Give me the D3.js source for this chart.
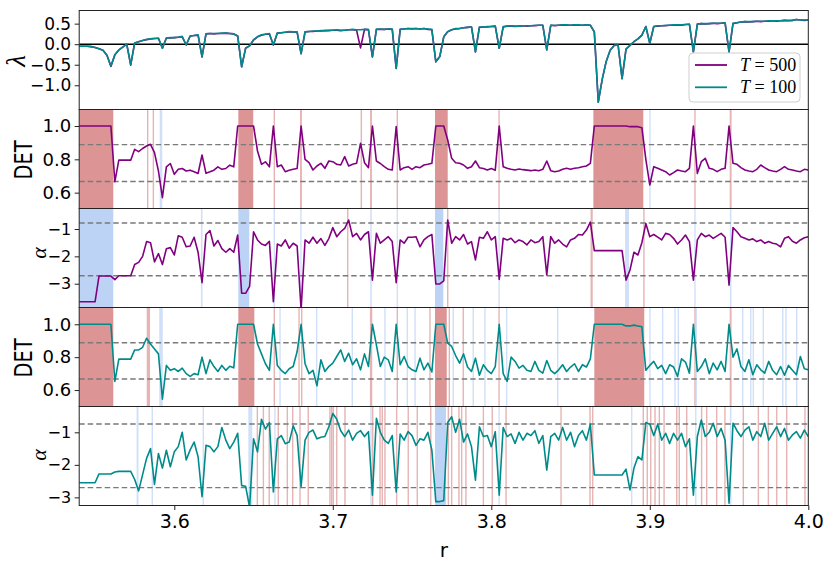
<!DOCTYPE html>
<html><head><meta charset="utf-8">
<script src="https://cdn.jsdelivr.net/npm/d3@7/dist/d3.min.js"></script>
<style>body{margin:0;background:#fff}</style>
</head><body>
<svg id="c" width="831" height="569"></svg>
<script>
// ---------- data (sampled on a regular r grid) ----------
const rStart = 3.54, rStep = 0.0025;
const xTicks = [3.6, 3.7, 3.8, 3.9, 4.0];

const lambda500 = [
-0.05,-0.05,-0.05,-0.06,-0.08,-0.11,-0.15,-0.27,-0.54,-0.26,
-0.14,-0.07,0.0,-0.51,0.03,0.06,0.09,0.11,0.13,0.14,
0.14,-0.10,0.15,0.15,0.16,0.17,0.18,-0.02,0.20,0.21,
0.22,-0.31,0.25,0.26,0.25,0.26,0.26,0.27,0.26,0.25,
0.20,-0.55,-0.10,-0.04,0.10,0.18,0.22,0.24,0.25,-0.02,
0.27,0.28,0.29,0.30,0.30,0.29,-0.23,0.30,0.31,0.31,
0.32,0.32,0.33,0.33,0.34,0.34,0.33,0.34,0.35,0.35,
0.34,-0.09,0.36,0.35,-0.31,0.36,0.36,0.36,0.37,0.36,
-0.59,0.36,0.37,0.38,0.37,0.38,0.37,0.38,0.36,0.35,
-0.43,-0.30,0.18,0.30,0.35,0.37,0.38,0.40,0.41,0.42,
-0.19,0.41,0.42,0.42,0.43,0.44,-0.10,0.42,0.44,0.44,
0.43,0.44,0.45,0.44,0.45,0.45,0.46,0.46,-0.14,0.46,
0.45,0.46,0.47,0.46,0.46,0.47,0.46,0.46,0.47,0.46,
0.30,-1.41,-0.85,-0.42,-0.15,-0.03,-0.02,-0.84,-0.12,-0.03,
0.06,0.13,0.22,0.43,0.02,0.43,0.44,0.45,0.45,0.46,
0.46,0.47,0.46,0.48,0.48,-0.19,0.49,0.50,0.49,0.50,
0.51,0.50,0.51,0.52,-0.19,0.50,0.52,0.54,0.55,0.54,
0.55,0.56,0.55,0.56,0.56,0.57,0.56,0.57,0.58,0.57,
0.58,0.60,0.59,0.58,0.59];

const lambda100 = [
-0.05,-0.05,-0.05,-0.06,-0.08,-0.11,-0.15,-0.27,-0.53,-0.26,
-0.14,-0.07,0.0,-0.50,0.03,0.06,0.09,0.12,0.13,0.14,
0.15,-0.10,0.15,0.16,0.16,0.17,0.19,-0.02,0.20,0.21,
0.23,-0.31,0.25,0.26,0.26,0.26,0.27,0.27,0.26,0.25,
0.20,-0.55,-0.09,-0.04,0.11,0.18,0.23,0.24,0.26,-0.02,
0.27,0.28,0.29,0.31,0.30,0.30,-0.23,0.30,0.31,0.32,
0.32,0.33,0.33,0.34,0.34,0.35,0.34,0.34,0.35,0.36,
0.35,0.35,0.36,0.36,-0.31,0.36,0.37,0.36,0.37,0.37,
-0.59,0.36,0.37,0.38,0.38,0.38,0.37,0.38,0.37,0.36,
-0.43,-0.30,0.18,0.31,0.35,0.38,0.38,0.40,0.41,0.42,
-0.19,0.42,0.42,0.43,0.43,0.44,-0.10,0.43,0.44,0.45,
0.44,0.44,0.45,0.45,0.45,0.46,0.46,0.46,-0.14,0.46,
0.46,0.46,0.47,0.47,0.46,0.47,0.47,0.46,0.47,0.46,
0.30,-1.41,-0.85,-0.42,-0.15,-0.03,-0.02,-0.84,-0.12,-0.03,
0.06,0.13,0.22,0.43,0.02,0.43,0.45,0.45,0.46,0.46,
0.47,0.47,0.47,0.48,0.49,-0.19,0.49,0.50,0.50,0.50,
0.51,0.51,0.51,0.52,-0.19,0.51,0.52,0.54,0.55,0.55,
0.55,0.56,0.56,0.56,0.57,0.57,0.57,0.57,0.58,0.58,
0.58,0.60,0.59,0.59,0.59];

const det500 = [
1,1,1,1,1,1,1,1,1,0.666,
0.795,0.795,0.795,0.795,0.86,0.846,0.865,0.88,0.89,0.84,
0.73,0.57,0.755,0.775,0.71,0.74,0.745,0.73,0.735,0.725,
0.715,0.826,0.716,0.725,0.735,0.755,0.74,0.745,0.765,0.755,
1,1,1,1,1,0.85,0.77,0.785,0.755,1,
0.756,0.766,0.726,0.735,0.74,0.745,1,0.80,0.78,0.736,
0.76,0.776,0.746,0.79,0.786,0.77,0.766,0.816,0.76,0.77,
0.776,0.896,0.78,0.75,1,0.79,0.775,0.756,0.74,0.736,
0.996,0.736,0.75,0.756,0.74,0.756,0.75,0.766,0.77,0.776,
1,1,1,0.916,0.806,0.78,0.776,0.766,0.746,0.756,
0.79,0.75,0.745,0.736,0.745,0.735,1,0.756,0.746,0.74,
0.736,0.742,0.738,0.735,0.732,0.736,0.732,0.74,0.79,0.732,
0.726,0.73,0.74,0.746,0.74,0.746,0.75,0.756,0.76,0.776,
1,1,1,1,1,1,1,1,1,0.996,
0.996,0.996,0.99,0.80,0.646,0.756,0.746,0.736,0.726,0.706,
0.72,0.736,0.73,0.726,0.746,1,0.716,0.786,0.806,0.746,
0.74,0.726,0.74,0.746,1,0.776,0.77,0.75,0.736,0.73,
0.726,0.74,0.766,0.75,0.736,0.73,0.726,0.74,0.756,0.74,
0.736,0.73,0.726,0.74,0.736];

const alpha500 = [
-3.66,-3.66,-3.66,-3.66,-3.66,-2.72,-2.72,-2.72,-2.72,-2.85,
-2.71,-2.71,-2.71,-2.71,-2.3,-2.22,-2.0,-1.46,-1.5,-2.2,
-1.9,-2.3,-1.72,-1.68,-1.95,-1.25,-1.3,-1.65,-1.62,-1.3,
-1.85,-2.96,-1.2,-1.06,-1.62,-1.42,-1.72,-1.85,-1.72,-1.85,
-1.22,-3.35,-3.35,-3.1,-1.1,-1.4,-1.55,-1.6,-1.45,-3.66,
-1.55,-1.62,-1.4,-1.7,-1.52,-1.62,-3.95,-1.4,-1.52,-1.3,
-1.52,-1.35,-1.6,-1.35,-0.95,-1.28,-1.1,-0.98,-0.67,-1.28,
-1.16,-1.4,-1.2,-1.1,-2.87,-1.16,-1.52,-1.4,-1.28,-1.46,
-2.96,-1.4,-1.52,-1.3,-1.3,-1.28,-1.65,-1.4,-1.28,-1.2,
-3.01,-3.01,-2.9,-0.67,-1.52,-1.28,-1.4,-1.2,-1.55,-1.46,
-2.13,-1.3,-1.34,-1.1,-1.4,-1.28,-2.84,-1.34,-1.4,-1.34,
-1.5,-1.4,-1.46,-1.58,-1.4,-1.5,-1.46,-1.28,-2.68,-1.28,
-1.52,-1.4,-1.55,-1.65,-1.4,-1.34,-1.2,-1.22,-1.04,-0.75,
-1.79,-1.79,-1.79,-1.79,-1.79,-1.79,-1.79,-1.79,-2.87,-2.5,
-1.85,-1.95,-1.5,-0.8,-1.28,-1.2,-1.3,-1.4,-1.16,-1.2,
-1.34,-1.55,-1.4,-1.22,-1.46,-2.87,-1.4,-1.16,-1.28,-1.22,
-1.34,-1.25,-1.16,-1.3,-3.05,-0.95,-1.1,-1.28,-1.34,-1.4,
-1.36,-1.46,-1.4,-1.52,-1.46,-1.52,-1.55,-1.65,-1.34,-1.28,
-1.45,-1.52,-1.4,-1.32,-1.28];

const det100 = [
1,1,1,1,1,1,1,1,1,0.653,
0.788,0.788,0.788,0.788,0.844,0.844,0.86,0.915,0.88,0.85,
0.82,0.545,0.75,0.72,0.73,0.713,0.733,0.70,0.683,0.70,
0.693,0.80,0.70,0.784,0.743,0.713,0.75,0.72,0.745,0.735,
1,1,1,1,1,0.88,0.82,0.76,0.72,1,
0.75,0.72,0.70,0.73,0.743,0.834,1,0.76,0.70,0.72,
0.626,0.784,0.713,0.743,0.764,0.804,0.844,0.774,0.824,0.754,
0.79,0.723,0.82,0.743,1,0.875,0.743,0.80,0.784,0.713,
1,0.754,0.804,0.743,0.723,0.713,0.794,0.723,0.764,0.71,
1,1,1,0.885,0.865,0.81,0.764,0.82,0.74,0.713,
0.794,0.69,0.754,0.72,0.70,0.743,1,0.70,0.653,0.80,
0.774,0.733,0.75,0.72,0.713,0.774,0.72,0.703,0.78,0.72,
0.70,0.723,0.754,0.713,0.74,0.76,0.713,0.754,0.74,0.79,
1,1,1,1,1,1,1,1,0.99,0.99,
0.995,0.99,0.985,0.72,0.75,0.774,0.73,0.75,0.70,0.754,
0.74,0.683,0.79,0.77,0.703,1,0.713,0.743,0.79,0.70,
0.764,0.723,0.774,0.713,1,0.80,0.85,0.743,0.713,0.784,
0.693,0.754,0.723,0.703,0.774,0.72,0.693,0.743,0.69,0.75,
0.72,0.693,0.804,0.73,0.723];

const alpha100 = [
-2.55,-2.55,-2.55,-2.55,-2.55,-2.28,-2.28,-2.28,-2.28,-2.22,
-2.2,-2.2,-2.2,-2.2,-2.45,-2.8,-2.3,-1.8,-1.5,-2.6,
-1.65,-2.1,-1.55,-2.06,-1.6,-1.44,-1.0,-1.85,-1.54,-1.3,
-1.75,-2.98,-1.4,-1.44,-1.6,-1.44,-0.85,-1.24,-1.5,-1.3,
-1.03,-2.64,-2.66,-3.3,-1.2,-1.6,-0.6,-0.9,-0.7,-2.83,
-1.2,-1.1,-1.35,-1.3,-0.8,-1.1,-2.67,-1.24,-1.0,-0.93,
-1.2,-1.15,-1.13,-0.83,-0.42,-0.6,-0.95,-1.13,-0.93,-1.24,
-1.03,-0.95,-1.13,-0.98,-2.93,-0.57,-1.0,-1.24,-1.34,-1.1,
-2.83,-1.05,-1.24,-0.98,-1.1,-1.4,-1.2,-1.24,-1.0,-1.55,
-3.13,-3.13,-3.1,-0.7,-0.52,-1.0,-0.6,-1.3,-1.05,-1.44,
-2.47,-0.83,-1.13,-1.1,-1.44,-0.98,-2.93,-0.85,-1.13,-1.05,
-1.34,-1.0,-1.24,-1.03,-1.1,-0.95,-1.34,-1.1,-2.16,-1.13,
-1.03,-1.24,-0.85,-1.24,-1.0,-1.44,-1.1,-0.95,-1.24,-0.75,
-2.31,-2.31,-2.31,-2.31,-2.31,-2.31,-2.31,-2.31,-2.13,-2.77,
-2.1,-1.75,-1.85,-0.7,-0.75,-1.1,-0.75,-1.24,-1.03,-1.34,
-1.03,-1.24,-1.03,-1.44,-1.2,-2.93,-1.13,-0.62,-1.13,-1.0,
-0.72,-1.13,-0.88,-1.24,-3.18,-0.72,-0.95,-1.13,-0.93,-0.83,
-1.24,-0.98,-1.13,-0.72,-1.24,-1.03,-0.83,-1.13,-0.88,-1.24,
-1.08,-0.98,-1.18,-0.93,-1.13];

// shaded r ranges: [r0, r1] spans, or a single r for a thin line
const det500Red = [[3.54,3.5615],3.5832,3.5868,[3.6404,3.6498],3.6631,[3.6793,3.6805],3.7180,[3.7235,3.7247],3.7407,[3.7645,3.7725],3.8049,[3.8644,3.8959],3.9285,[3.9504,3.9516]];
const det500Blue = [[3.5908,3.5924],3.9001];
const alpha500Red = [3.7094,3.7725,[3.8626,3.8640],3.8963];
const alpha500Blue = [[3.54,3.5615],[3.6168,3.6178],[3.6404,3.6473],3.6631,3.6799,[3.7236,3.7246],3.7407,[3.7645,3.7697],3.8049,[3.8844,3.8869],3.9285,[3.9505,3.9515]];
const det100Red = [[3.54,3.5615],[3.5826,3.5847],[3.6404,3.6505],3.6631,3.6787,3.6804,[3.7234,3.7249],3.7407,3.7613,[3.7645,3.7719],3.7735,3.7823,3.8049,[3.8650,3.8965],3.9285,[3.9504,3.9516]];
const det100Blue = [[3.5905,3.5927],3.6667,3.6898,3.7123,3.7329,3.7470,3.7519,3.7760,3.7886,3.7960,3.8097,3.8419,3.9001,3.9081,3.9159,3.9180,3.9293,3.9586,3.9637,3.9653,3.9716,3.9839,3.9859,3.9927];
const alpha100Red = [3.6524,3.6562,3.6599,3.6656,3.6713,3.6747,3.6793,3.6845,3.6982,3.6993,3.7003,3.7025,3.7077,3.7252,3.7298,3.7312,3.7329,3.7403,3.7476,3.7533,3.7618,3.7729,3.7750,3.7796,3.7813,3.7840,3.7950,3.8006,3.8093,3.8440,3.8623,3.8640,3.8959,3.8984,3.9006,3.9033,3.9060,3.9090,3.9170,3.9186,3.9233,3.9327,3.9359,3.9422,3.9474,3.9590,3.9685,3.9748,3.9801,3.9864,3.9979];
const alpha100Blue = [[3.5762,3.5774],3.5861,3.6183,[3.6467,3.6492],3.6635,[3.7236,3.7246],[3.7645,3.7714],3.8049,3.8886,3.9290,[3.9505,3.9515]];

const detThresholds500 = [0.888, 0.667];
const alphaThresholds500 = [-0.78, -2.71];
const detThresholds100 = [0.888, 0.667];
const alphaThresholds100 = [-0.745, -2.70];

const lambdaTicks = [0.5, 0.0, -0.5, -1.0];
const detTicks = [1.0, 0.8, 0.6];
const alphaTicks = [-1, -2, -3];
const legendLabels = ["500", "100"];

// ---------- drawing ----------
const PURPLE = "#800080", TEAL = "#008b8b";
const RED = "#dc9494", BLUE = "#bcd3f5";
const svg = d3.select("#c");
const L = 79.2, R = 808.3;
const x = d3.scaleLinear().domain([3.54, 4.0]).range([L, R]);
const rAt = i => rStart + i * rStep;
const H = 99, T0 = 10.5;

const panels = [
  {dom:[-1.59,0.82], ticks:lambdaTicks, fmt:d3.format(".1f"), fs:17, label:"λ", serif:true, lx:16, ly:61, lfs:27, series:[[lambda500,PURPLE],[lambda100,TEAL]], zero:true},
  {dom:[0.505,1.099], ticks:detTicks, fmt:d3.format(".1f"), fs:18, label:"DET", lx:24, ly:160, series:[[det500,PURPLE]], thr:detThresholds500, red:det500Red, blue:det500Blue},
  {dom:[-3.87,-0.25], ticks:alphaTicks, fmt:d3.format("d"), fs:16, label:"α", serif:true, lx:38, ly:253, lfs:22, series:[[alpha500,PURPLE]], thr:alphaThresholds500, red:alpha500Red, blue:alpha500Blue},
  {dom:[0.5,1.102], ticks:detTicks, fmt:d3.format(".1f"), fs:18, label:"DET", lx:24, ly:358, series:[[det100,TEAL]], thr:detThresholds100, red:det100Red, blue:det100Blue},
  {dom:[-3.25,-0.206], ticks:alphaTicks, fmt:d3.format("d"), fs:16, label:"α", serif:true, lx:38, ly:455, lfs:22, series:[[alpha100,TEAL]], thr:alphaThresholds100, red:alpha100Red, blue:alpha100Blue}
];

const defs = svg.append("defs");

panels.forEach((p, k) => {
  const top = T0 + k * H, bot = top + H;
  const y = d3.scaleLinear().domain(p.dom).range([bot, top]);
  const g = svg.append("g");
  const cid = "clip" + k;
  defs.append("clipPath").attr("id", cid).append("rect")
    .attr("x", L).attr("y", top).attr("width", R - L).attr("height", H);
  const inner = g.append("g").attr("clip-path", `url(#${cid})`);

  const drawBands = (list, color) => {
    (list || []).forEach(b => {
      const span = Array.isArray(b);
      const x0 = span ? x(b[0]) : x(b) - 0.7;
      const x1 = span ? x(b[1]) : x(b) + 0.7;
      const w = Math.max(1.4, x1 - x0);
      inner.append("rect").attr("x", x0).attr("y", top).attr("width", w).attr("height", H)
        .attr("fill", color).attr("opacity", w > 4 ? 1 : 0.7);
    });
  };
  drawBands(p.red, RED);
  drawBands(p.blue, BLUE);

  (p.thr || []).forEach(t => {
    inner.append("line").attr("x1", L).attr("x2", R).attr("y1", y(t)).attr("y2", y(t))
      .attr("stroke", "#7a7a7a").attr("stroke-width", 1.4).attr("stroke-dasharray", "5.5,3");
  });

  if (p.zero) {
    inner.append("line").attr("x1", L).attr("x2", R).attr("y1", y(0)).attr("y2", y(0))
      .attr("stroke", "#000").attr("stroke-width", 1.6);
  }

  const line = d3.line().x((d, i) => x(rAt(i))).y(d => y(d));
  p.series.forEach(([vals, col]) => {
    inner.append("path").attr("d", line(vals)).attr("fill", "none")
      .attr("stroke", col).attr("stroke-width", 1.6).attr("stroke-linejoin", "round");
  });

  // frame
  g.append("rect").attr("x", L).attr("y", top).attr("width", R - L).attr("height", H)
    .attr("fill", "none").attr("stroke", "#222").attr("stroke-width", 1);

  // y axis
  const ax = g.append("g").attr("transform", `translate(${L},0)`)
    .call(d3.axisLeft(y).tickValues(p.ticks).tickFormat(p.fmt).tickSize(4.5).tickPadding(3.5));
  ax.select(".domain").remove();
  ax.selectAll(".tick line").attr("stroke", "#222");
  ax.selectAll("text").attr("font-family", "DejaVu Sans").attr("font-size", p.fs).attr("fill", "#000");

  // y label
  const lab = g.append("text").attr("transform", `translate(${p.lx},${p.ly}) rotate(-90)`)
    .attr("text-anchor", "middle").attr("dominant-baseline", "central").text(p.label);
  if (p.serif) {
    lab.attr("font-family", "Liberation Serif").attr("font-style", "italic").attr("font-size", p.lfs);
  } else {
    lab.attr("font-family", "DejaVu Sans").attr("font-size", 24)
      .attr("textLength", 39).attr("lengthAdjust", "spacingAndGlyphs");
  }
});

// x axis on the bottom panel
const bottom = T0 + 5 * H;
const xa = svg.append("g").attr("transform", `translate(0,${bottom})`)
  .call(d3.axisBottom(x).tickValues(xTicks).tickFormat(d3.format(".1f")).tickSize(4.5).tickPadding(5));
xa.select(".domain").remove();
xa.selectAll(".tick line").attr("stroke", "#222");
xa.selectAll("text").attr("font-family", "DejaVu Sans").attr("font-size", 19).attr("fill", "#000");
svg.append("text").attr("x", (L + R) / 2).attr("y", 557).attr("text-anchor", "middle")
  .attr("font-family", "DejaVu Sans").attr("font-size", 20).text("r");

// legend
const lg = svg.append("g").attr("transform", "translate(689,53)");
lg.append("rect").attr("width", 111).attr("height", 49).attr("rx", 4)
  .attr("fill", "#fff").attr("fill-opacity", 0.85).attr("stroke", "#cfcfcf");
[[PURPLE, legendLabels[0]], [TEAL, legendLabels[1]]].forEach(([c, t], j) => {
  const yy = 12 + j * 22.3;
  lg.append("line").attr("x1", 6).attr("x2", 38).attr("y1", yy).attr("y2", yy)
    .attr("stroke", c).attr("stroke-width", 1.8);
  const tx = lg.append("text").attr("x", 51).attr("y", yy + 6)
    .attr("font-family", "Liberation Serif").attr("font-size", 18);
  tx.append("tspan").attr("font-style", "italic").text("T");
  tx.append("tspan").text(" = " + t);
});
</script>
</body></html>
